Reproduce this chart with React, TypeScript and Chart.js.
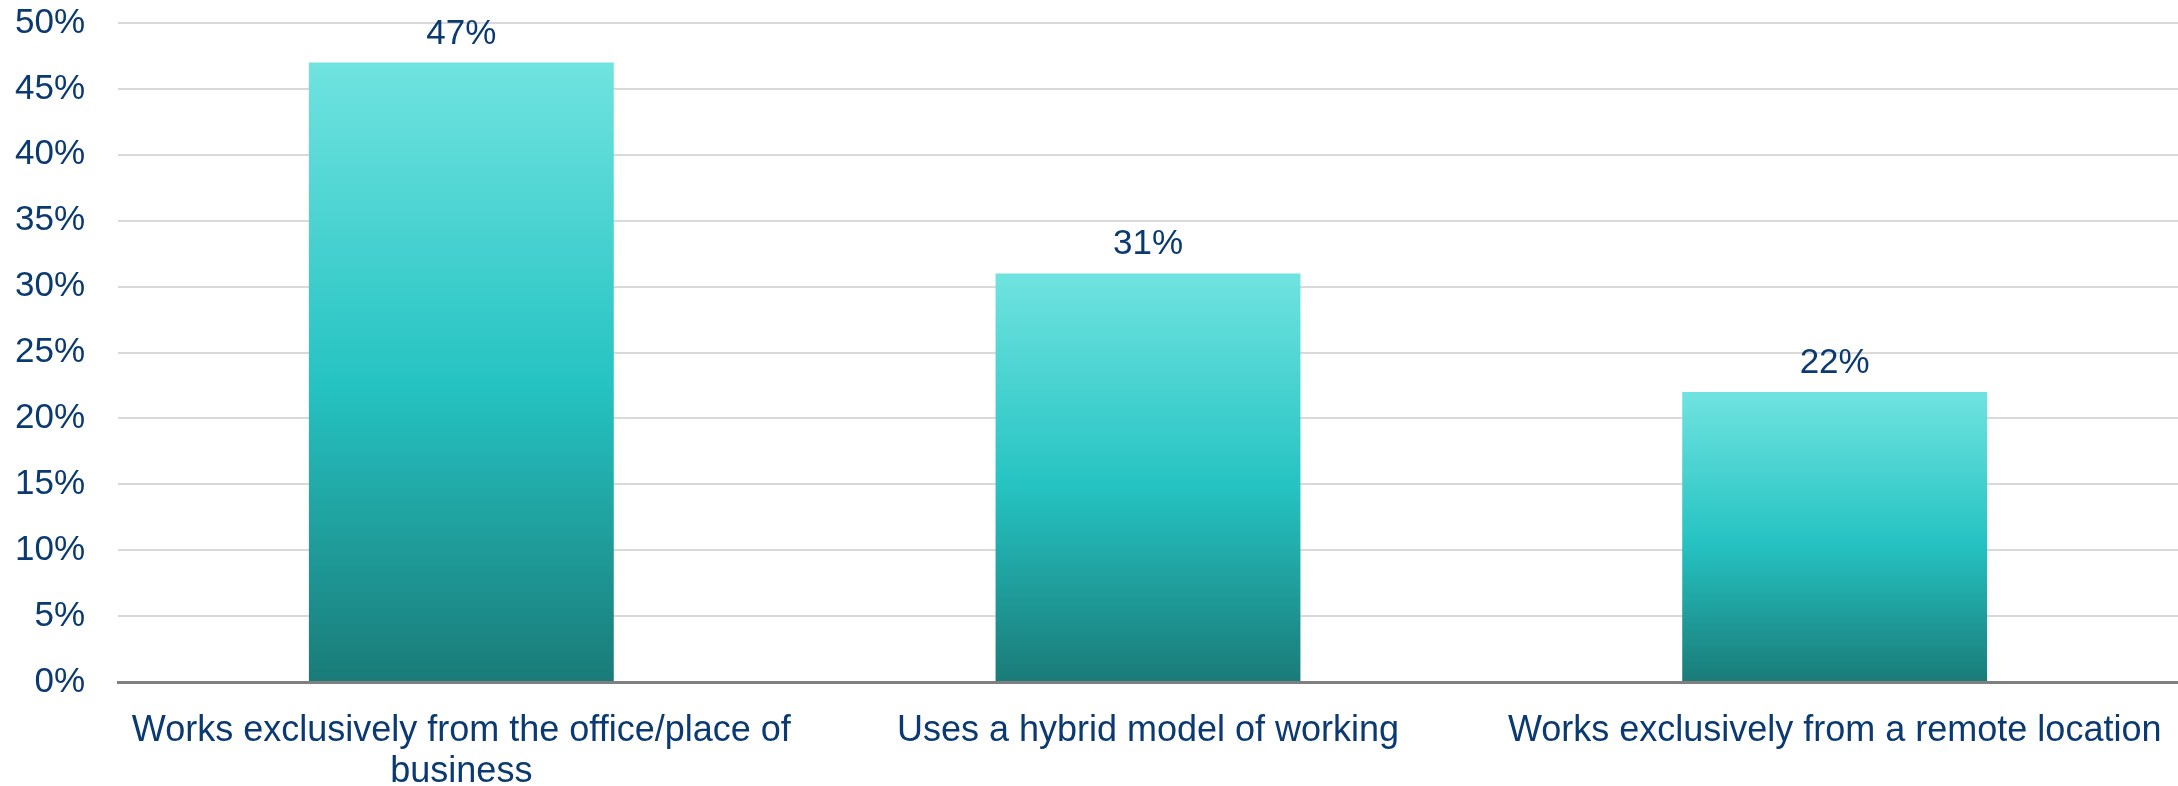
import React, { useEffect, useRef } from "react";
import { Chart, registerables } from "chart.js";

Chart.register(...registerables);

const categories: (string | string[])[] = [
  ["Works exclusively from the office/place of", "business"],
  "Uses a hybrid model of working",
  "Works exclusively from a remote location",
];
const values: number[] = [47, 31, 22];
const valueLabels: string[] = ["47%", "31%", "22%"];
const yTickMax = 50;
const yTickStep = 5;

const NAVY = "#0B3A72";
const FONT = "'Liberation Sans', Arial, Helvetica, sans-serif";

const dataLabelPlugin = {
  id: "dataLabels",
  afterDatasetsDraw(chart: any) {
    const ctx = chart.ctx;
    const meta = chart.getDatasetMeta(0);
    ctx.save();
    ctx.fillStyle = NAVY;
    ctx.font = `35px ${FONT}`;
    ctx.textAlign = "center";
    ctx.textBaseline = "alphabetic";
    meta.data.forEach((el: any, i: number) => {
      ctx.fillText(valueLabels[i], el.x, el.y - 19);
    });
    ctx.restore();
  },
};

export default function App() {
  const ref = useRef<HTMLCanvasElement | null>(null);
  useEffect(() => {
    if (!ref.current) return;
    const chart = new Chart(ref.current, {
      type: "bar",
      data: {
        labels: categories,
        datasets: [
          {
            data: values,
            backgroundColor: (c: any) => {
              const ch = c.chart;
              if (!ch.chartArea || !ch.scales || !ch.scales.y) return "#26C4C3";
              const ys = ch.scales.y;
              const v = typeof c.raw === "number" ? c.raw : 0;
              const top = ys.getPixelForValue(v);
              const bot = ys.getPixelForValue(0);
              if (!isFinite(top) || !isFinite(bot) || top === bot) return "#26C4C3";
              const g = ch.ctx.createLinearGradient(0, top, 0, bot);
              g.addColorStop(0, "#70E3E0");
              g.addColorStop(0.52, "#25C3C2");
              g.addColorStop(1, "#1A7B78");
              return g;
            },
            borderWidth: 0,
            categoryPercentage: 1,
            barPercentage: 0.444,
          },
        ],
      },
      options: {
        responsive: false,
        animation: false,
        devicePixelRatio: 1,
        layout: { padding: { top: 23, right: 0, left: 0, bottom: 0 } },
        plugins: {
          legend: { display: false },
          title: { display: false },
          tooltip: { enabled: false },
        },
        scales: {
          x: {
            grid: { display: false, drawTicks: false },
            border: { display: true, color: "#7F7F7F", width: 3 },
            ticks: {
              color: NAVY,
              font: { size: 36, family: FONT, lineHeight: 1.14 },
              padding: 29,
              maxRotation: 0,
              minRotation: 0,
              autoSkip: false,
            },
            afterFit: (s: any) => {
              s.height = 104;
              s.paddingLeft = 0;
              s.paddingRight = 0;
            },
          },
          y: {
            min: 0,
            max: yTickMax,
            grid: { color: "#D9D9D9", lineWidth: 2, drawTicks: false },
            border: { display: false },
            ticks: {
              stepSize: yTickStep,
              color: NAVY,
              font: { size: 35, family: FONT },
              padding: 33,
              callback: (v: any) => `${v}%`,
            },
            afterFit: (s: any) => {
              s.width = 118;
              s.paddingTop = 0;
              s.paddingBottom = 0;
            },
          },
        },
      },
      plugins: [dataLabelPlugin],
    });
    return () => chart.destroy();
  }, []);
  return (
    <div style={{ position: "absolute", left: 0, top: 0, width: 2178, height: 786, background: "#fff" }}>
      <canvas ref={ref} width={2178} height={786} style={{ display: "block" }} />
    </div>
  );
}
